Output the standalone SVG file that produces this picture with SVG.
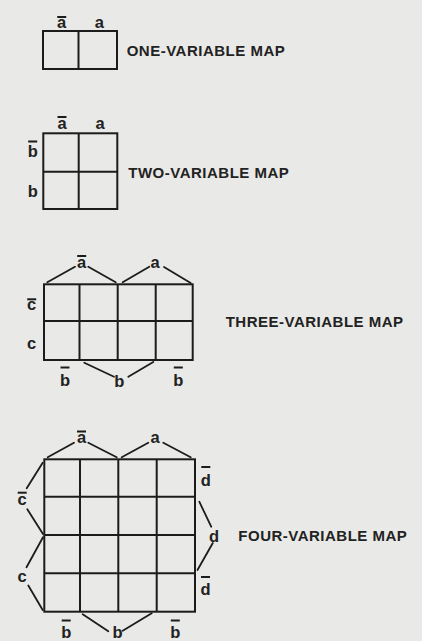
<svg xmlns="http://www.w3.org/2000/svg" width="422" height="641" viewBox="0 0 422 641">
<style>
.bg{fill:#e9e9e7}
.grid{fill:none;stroke:#1c1c1c;stroke-width:2}
.br{stroke:#1c1c1c;stroke-width:1.8;stroke-linecap:round}
.bar{stroke:#1c1c1c;stroke-width:2}
.lb{font-family:"Liberation Sans",Arial,sans-serif;font-size:16.5px;font-weight:bold;fill:#222;text-anchor:middle}
.cap{font-family:"Liberation Sans",Arial,sans-serif;font-size:15px;font-weight:bold;fill:#222;letter-spacing:0.5px}
</style>
<rect class="bg" x="0" y="0" width="422" height="641"/>

<g id="one-variable-map">
<rect class="grid" x="43" y="31" width="74" height="38"/>
<line class="grid" x1="78.5" y1="31" x2="78.5" y2="69"/>
<text class="lb" x="61.7" y="28">a</text><line class="bar" x1="57.2" y1="17" x2="66.2" y2="17"/>
<text class="lb" x="99.3" y="28">a</text>
<text class="cap" x="126.7" y="56">ONE-VARIABLE MAP</text>
</g>

<g id="two-variable-map">
<rect class="grid" x="43.3" y="133.3" width="74" height="75.7"/>
<line class="grid" x1="78.7" y1="133.3" x2="78.7" y2="209"/>
<line class="grid" x1="43.3" y1="171.7" x2="117.3" y2="171.7"/>
<text class="lb" x="62" y="129.3">a</text><line class="bar" x1="57.5" y1="117" x2="66.5" y2="117"/>
<text class="lb" x="100" y="129.3">a</text>
<text class="lb" x="32.7" y="157">b</text><line class="bar" x1="28.2" y1="141.5" x2="37.2" y2="141.5"/>
<text class="lb" x="32.7" y="197">b</text>
<text class="cap" x="128.3" y="178">TWO-VARIABLE MAP</text>
</g>

<g id="three-variable-map">
<rect class="grid" x="44" y="284.3" width="148.7" height="75.7"/>
<line class="grid" x1="79.5" y1="284.3" x2="79.5" y2="360"/>
<line class="grid" x1="117.7" y1="284.3" x2="117.7" y2="360"/>
<line class="grid" x1="155.7" y1="284.3" x2="155.7" y2="360"/>
<line class="grid" x1="44" y1="321" x2="192.7" y2="321"/>
<text class="lb" x="81.7" y="268.3">a</text><line class="bar" x1="77.2" y1="256" x2="86.2" y2="256"/>
<text class="lb" x="155" y="268.3">a</text>
<text class="lb" x="31.7" y="310">c</text><line class="bar" x1="27.2" y1="299.3" x2="36.2" y2="299.3"/>
<text class="lb" x="31.7" y="348.5">c</text>
<text class="lb" x="65" y="386">b</text><line class="bar" x1="60.5" y1="367.5" x2="69.5" y2="367.5"/>
<text class="lb" x="119.3" y="386.5">b</text>
<text class="lb" x="178.3" y="386">b</text><line class="bar" x1="173.8" y1="367.5" x2="182.8" y2="367.5"/>
<text class="cap" x="225.7" y="327">THREE-VARIABLE MAP</text>
</g>

<g id="four-variable-map">
<rect class="grid" x="44.3" y="459.3" width="150.7" height="152.4"/>
<line class="grid" x1="80" y1="459.3" x2="80" y2="611.7"/>
<line class="grid" x1="118.3" y1="459.3" x2="118.3" y2="611.7"/>
<line class="grid" x1="156.7" y1="459.3" x2="156.7" y2="611.7"/>
<line class="grid" x1="44.3" y1="496.7" x2="195" y2="496.7"/>
<line class="grid" x1="44.3" y1="535" x2="195" y2="535"/>
<line class="grid" x1="44.3" y1="573.3" x2="195" y2="573.3"/>
<text class="lb" x="81.5" y="443.3">a</text><line class="bar" x1="77" y1="431.5" x2="86" y2="431.5"/>
<text class="lb" x="155" y="443.3">a</text>
<text class="lb" x="22.2" y="505">c</text><line class="bar" x1="17.7" y1="492.7" x2="26.7" y2="492.7"/>
<text class="lb" x="22.2" y="581.5">c</text>
<text class="lb" x="205.8" y="486">d</text><line class="bar" x1="201.3" y1="467" x2="210.3" y2="467"/>
<text class="lb" x="214" y="541.7">d</text>
<text class="lb" x="205.5" y="595">d</text><line class="bar" x1="201" y1="577" x2="210" y2="577"/>
<text class="lb" x="66.2" y="637.5">b</text><line class="bar" x1="61.7" y1="620.5" x2="70.7" y2="620.5"/>
<text class="lb" x="117.5" y="637.5">b</text>
<text class="lb" x="175.3" y="637.5">b</text><line class="bar" x1="170.8" y1="620.5" x2="179.8" y2="620.5"/>
<text class="cap" x="238.3" y="540.7">FOUR-VARIABLE MAP</text>
</g>

<g id="connectors">
<line class="br" x1="47.3" y1="282.3" x2="75" y2="266.7"/>
<line class="br" x1="88.3" y1="266.7" x2="115.7" y2="282.3"/>
<line class="br" x1="122.7" y1="282.3" x2="149.3" y2="266.7"/>
<line class="br" x1="164" y1="267" x2="190.7" y2="283"/>
<line class="br" x1="84.3" y1="362.7" x2="114" y2="376.7"/>
<line class="br" x1="128.3" y1="376.7" x2="153.3" y2="362"/>

<line class="br" x1="47.7" y1="457.3" x2="74" y2="442.7"/>
<line class="br" x1="88.3" y1="442.7" x2="116.7" y2="457.3"/>
<line class="br" x1="121.7" y1="457.3" x2="148.3" y2="442.7"/>
<line class="br" x1="163.3" y1="442.7" x2="190.7" y2="457.3"/>
<line class="br" x1="26.7" y1="488.3" x2="42.7" y2="462.7"/>
<line class="br" x1="27.3" y1="509.3" x2="43" y2="534"/>
<line class="br" x1="43" y1="537.3" x2="26.5" y2="567.3"/>
<line class="br" x1="28.3" y1="585.5" x2="42.7" y2="610"/>
<line class="br" x1="199.3" y1="501.7" x2="211.2" y2="526.7"/>
<line class="br" x1="212.8" y1="543" x2="197.5" y2="570"/>
<line class="br" x1="82.7" y1="614.3" x2="108.3" y2="631.3"/>
<line class="br" x1="122.7" y1="630.8" x2="151.7" y2="613.3"/>
</g>
</svg>
